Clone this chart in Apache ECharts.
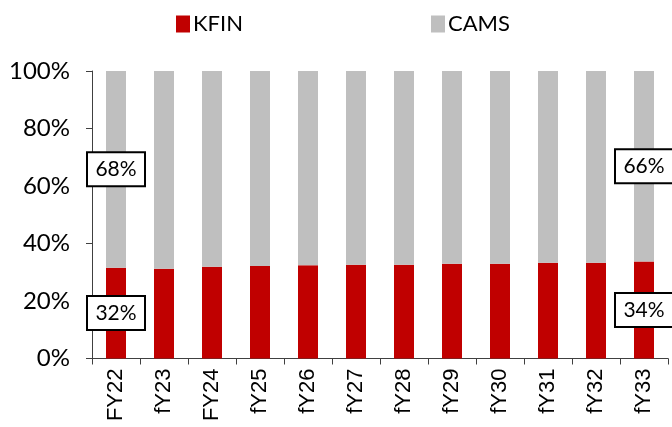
<!DOCTYPE html>
<html>
<head>
<meta charset="utf-8">
<script src="https://cdn.jsdelivr.net/npm/echarts@6/dist/echarts.min.js"></script>
<style>
  html, body { margin: 0; padding: 0; background: #fff; }
  #main { width: 672px; height: 427px; }
</style>
</head>
<body>
<div id="main"></div>
<script>
var years = ['FY22', 'fY23', 'FY24', 'fY25', 'fY26', 'fY27', 'fY28', 'fY29', 'fY30', 'fY31', 'fY32', 'fY33'];
var kfin = [31.6, 31.2, 31.9, 32.2, 32.4, 32.6, 32.6, 33.0, 33.0, 33.3, 33.3, 33.7];
var cams = [68.4, 68.8, 68.1, 67.8, 67.6, 67.4, 67.4, 67.0, 67.0, 66.7, 66.7, 66.3];
var yTicks = [0, 20, 40, 60, 80, 100];

window.onload = function () {
    drawChart();
}

// only the first and last bar get a boxed label
function withLabels(values) {
    return values.map(function (v, i) {
        if (i === 0 || i === values.length - 1) {
            return { value: v, label: { show: true } };
        }
        return v;
    });
}

function drawChart() {
    let chart = echarts.init(document.getElementById('main'));
    let boxLabel = {
        show: false,
        position: 'inside',
        formatter: function (p) { return Math.round(p.value) + '%'; },
        color: '#000',
        fontFamily: 'Lato',
        fontSize: 21,
        backgroundColor: '#fff',
        borderColor: '#000',
        borderWidth: 2,
        borderRadius: 0,
        width: 54,
        height: 30,
        align: 'center',
        verticalAlign: 'middle',
        lineHeight: 30,
        padding: [1, 1, 1, 1]
    };
    let option = {
        animation: false,
        color: ['#C00000', '#BFBFBF'],
        legend: {
            top: 8,
            left: 171,
            itemGap: 188,
            itemWidth: 14,
            itemHeight: 17,
            icon: 'rect',
            textStyle: { fontFamily: 'Lato', fontSize: 22, color: '#000', padding: [0, 0, 0, -2] },
            data: ['KFIN', 'CAMS']
        },
        grid: {
            left: 92,
            right: 4,
            top: 71,
            bottom: 68.5
        },
        xAxis: {
            type: 'category',
            data: years,
            axisLine: { lineStyle: { color: '#404040', width: 1 } },
            axisTick: { show: true, length: 6, lineStyle: { color: '#404040' } },
            axisLabel: {
                rotate: 90,
                margin: 10,
                color: '#000',
                fontFamily: 'Liberation Sans',
                fontSize: 22
            }
        },
        yAxis: {
            type: 'value',
            min: yTicks[0],
            max: yTicks[yTicks.length - 1],
            interval: 20,
            splitLine: { show: false },
            axisLine: { show: true, lineStyle: { color: '#404040', width: 1 } },
            axisTick: { show: true, length: 6, lineStyle: { color: '#404040' } },
            axisLabel: {
                margin: 22,
                color: '#000',
                fontFamily: 'Lato',
                fontSize: 24,
                formatter: '{value}%'
            }
        },
        series: [
            {
                name: 'KFIN',
                type: 'bar',
                stack: 'share',
                barWidth: 20,
                label: boxLabel,
                data: withLabels(kfin)
            },
            {
                name: 'CAMS',
                type: 'bar',
                stack: 'share',
                barWidth: 20,
                label: boxLabel,
                data: withLabels(cams)
            }
        ]
    };
    chart.setOption(option);
    return chart;
}
</script>
</body>
</html>
